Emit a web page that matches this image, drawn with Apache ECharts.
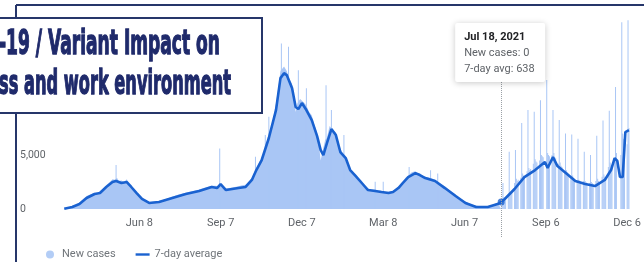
<!DOCTYPE html>
<html><head><meta charset="utf-8">
<script src="https://cdn.jsdelivr.net/npm/echarts@6/dist/echarts.min.js"></script>
<style>html,body{margin:0;padding:0;background:#fff;overflow:hidden}#c{width:644px;height:262px}</style>
</head><body><div id="c"></div>
<script>
// Day numbers count from 2020-03-09 (day 0); one tick every 91 days (13 weeks).
const DAY0 = '2020-03-09';
const tickLabels = ['Jun 8', 'Sep 7', 'Dec 7', 'Mar 8', 'Jun 7', 'Sep 6', 'Dec 6'];
const yTicks = [0, 5000, 10000, 15000];

// 7-day average
const avgDays = [7,16,24,32,41,47,54,61,65,71,77,82,88,94,102,113,128,143,158,172,178,182,188,195,202,210,217,222,228,236,244,249,253,256,262,266,269,273,278,284,290,294,297,301,306,311,316,322,327,333,340,347,355,362,370,375,381,386,392,400,405,411,422,433,445,456,468,481,492,496,500,511,522,534,545,548,554,559,571,579,590,601,612,619,623,626,629,632,635,639];
const avgValues = [20,185,460,1020,1390,1480,2040,2500,2590,2410,2500,2040,1480,930,560,650,1020,1390,1670,2040,1940,2310,1760,1850,1940,2040,2690,3610,4540,6580,9170,12130,12590,12410,11200,9450,9260,9820,9170,8240,6760,5460,5000,6110,7410,6850,5280,4720,3610,3060,2410,1760,1670,1570,1480,1570,1940,2410,2960,3330,3150,2870,2590,1940,1200,560,185,185,460,638,930,1850,2960,3610,4350,3800,4810,3980,3150,2590,2310,2130,2690,3610,4720,4450,2960,2960,7130,7310];

// New cases, dense period (top of the daily bars)
const caseDays = [6,10,16,20,24,28,32,36,41,44,47,51,54,58,61,64,66,68,71,74,77,80,82,85,88,91,94,98,102,108,113,120,128,135,143,150,158,165,172,176,178,180,184,188,195,202,206,210,214,217,222,225,228,232,236,240,244,247,249,251,253,256,259,262,264,266,268,271,273,276,278,281,284,287,290,292,294,296,297,299,301,304,306,308,311,314,316,319,322,325,327,330,333,336,340,344,347,351,355,358,362,366,370,375,378,381,384,386,389,392,396,400,403,405,408,411,416,422,427,433,439,445,450,456,462,468,474,481,487,492,496];
const caseValues = [0,80,300,380,600,900,1200,1350,1500,1450,1650,1900,2200,2500,2750,2700,2900,2600,2650,2500,2750,2300,2200,1900,1600,1300,1050,800,650,700,750,900,1150,1350,1500,1650,1800,2000,2150,2150,2000,2100,2200,1900,2000,2100,2200,2250,2600,2900,3800,4300,4800,5600,7000,8000,9800,11500,12800,13000,13200,12800,12000,11600,10500,9000,9800,10200,10300,9800,9600,9000,8700,7800,7100,6000,4500,5300,5200,6400,6600,7700,7700,7300,7100,6000,5600,5100,4900,4200,3800,3400,3200,2900,2600,2100,1900,1800,1800,1700,1700,1600,1600,1700,1900,2100,2400,2600,2900,3100,3400,3500,3300,3300,3100,3000,2900,2700,2400,2100,1700,1350,1000,700,450,300,250,280,400,600,0];

// Single-day spikes in the dense period
const spikeDays = [65,181,221,232,236,250,258,269,278,300,306,320,355,364,393,417,425];
const spikeValues = [4070,5600,4840,6850,8550,15340,15030,12870,11180,11480,9170,6850,2530,2530,3900,3600,3300];

// Daily new cases from day 497 (Mon 2021-07-19) on
const dailyFrom = 497;
const dailyCases = [
  600,2400,1100,1000,1100,0,0,
  1300,5300,1600,1500,1500,0,0,
  2400,5460,2800,2600,2700,0,0,
  2900,7960,3300,3100,3000,0,0,
  3500,9170,3800,3600,3700,0,0,
  4200,9010,4600,4400,4300,0,0,
  4500,10090,5000,4900,4800,0,0,
  0,11950,5200,5000,4900,0,0,
  5000,9170,5200,4800,4700,0,0,
  4200,8240,4300,4000,3900,0,0,
  3500,7000,3600,3400,3300,0,0,
  3000,6900,3100,2900,2800,0,0,
  2500,6500,2700,2600,2500,0,0,
  2600,5300,2600,2500,2400,0,0,
  2400,5000,2500,2400,2300,0,0,
  2600,6800,2800,2600,2500,0,0,
  3000,8200,3200,3000,2900,0,0,
  3900,9100,4300,4100,4000,0,0,
  4500,11300,5200,0,0,0,0,
  5000,17300,7000,6500,6000,0,0,
  6000,17500,7500
];

// Tooltip shown in the picture
const tipDay = 496;
const tipDate = 'Jul 18, 2021';
const tipNew = 0;
const tipAvg = 638;

const titleLines = ['-19 / Variant Impact on', 'ss and work environment'];
const legendNames = ['New cases', '7-day average'];

const AREA = '#a9c6f5';
const LINE = '#1a62d0';
const NAVY = '#26366a';

const zip = (a, b) => a.map((v, i) => [v, b[i]]);
const barData = zip(spikeDays, spikeValues).concat(dailyCases.map((v, i) => [dailyFrom + i, v]));

const chart = echarts.init(document.getElementById('c'), null, {renderer: 'canvas'});
chart.setOption({
  animation: false,
  backgroundColor: '#fff',
  grid: {left: 58, right: 4, top: 4, bottom: 53},
  xAxis: {
    type: 'value', min: 0, max: 648, interval: 91,
    axisLine: {show: false}, axisTick: {show: false}, splitLine: {show: false},
    axisLabel: {
      margin: 9, color: '#5f6368', fontFamily: 'Roboto', fontSize: 11,
      formatter: v => { const k = Math.round(v / 91) - 1; return (v % 91 === 0 && k >= 0 && k < tickLabels.length) ? tickLabels[k] : ''; }
    }
  },
  yAxis: {
    type: 'value', min: 0, max: 19000, interval: 5000,
    axisLine: {show: false}, axisTick: {show: false}, splitLine: {show: false},
    axisLabel: {
      align: 'left', margin: 38, color: '#5f6368', fontFamily: 'Roboto', fontSize: 10.5,
      formatter: v => yTicks.indexOf(v) >= 0 ? v.toLocaleString('en-US') : ''
    }
  },
  legend: {
    left: 41, top: 244, itemWidth: 14, itemHeight: 8, itemGap: 20,
    textStyle: {color: '#70757a', fontFamily: 'Roboto', fontSize: 11},
    data: [
      {name: legendNames[0], icon: 'circle', itemStyle: {color: '#b3cdf6'}},
      {name: legendNames[1], icon: 'path://M0,0H14V2.4H0Z', itemStyle: {color: LINE}}
    ]
  },
  series: [
    {name: legendNames[0], type: 'line', data: zip(caseDays, caseValues), symbol: 'none',
     lineStyle: {width: 0}, itemStyle: {color: AREA}, areaStyle: {color: AREA, opacity: 1}, z: 1},
    {name: legendNames[0], type: 'bar', data: barData, barWidth: 1, itemStyle: {color: AREA}, z: 1},
    {name: legendNames[1], type: 'line', data: zip(avgDays, avgValues), symbol: 'none',
     lineStyle: {color: LINE, width: 2.6}, itemStyle: {color: LINE}, z: 3},
    {name: 'tip', type: 'scatter', data: [[tipDay, tipAvg]], symbolSize: 7, itemStyle: {color: LINE}, z: 4, silent: true}
  ]
});

// annotations
const px = chart.convertToPixel({xAxisIndex: 0}, tipDay);
const FONT = '"Liberation Sans Narrow", "DejaVu Sans Condensed", Roboto, sans-serif';
const ctx = document.createElement('canvas').getContext('2d');
ctx.font = 'bold 32px ' + FONT;
const w1 = ctx.measureText(titleLines[0]).width;
const w2 = ctx.measureText(titleLines[1]).width;

chart.setOption({
  graphic: [
    {type: 'line', shape: {x1: 16, y1: 5, x2: 16, y2: 262}, style: {stroke: NAVY, lineWidth: 2}, z: 90},
    {type: 'line', shape: {x1: 16, y1: 5, x2: 644, y2: 5}, style: {stroke: NAVY, lineWidth: 2}, z: 90},
    {type: 'rect', shape: {x: -3, y: 18, width: 265, height: 95}, style: {fill: '#fff', stroke: NAVY, lineWidth: 2}, z: 100},
    {type: 'text', x: -1, y: 45, scaleX: 221 / w1, scaleY: 1.06, z: 101,
     style: {text: titleLines[0], font: 'bold 32px ' + FONT, fill: '#1f2a6b', stroke: '#1f2a6b', lineWidth: 1.2, textAlign: 'left', textVerticalAlign: 'middle', align: 'left', verticalAlign: 'middle'}},
    {type: 'text', x: -1, y: 85, scaleX: 232 / w2, scaleY: 1.06, z: 101,
     style: {text: titleLines[1], font: 'bold 32px ' + FONT, fill: '#1f2a6b', stroke: '#1f2a6b', lineWidth: 1.2, textAlign: 'left', textVerticalAlign: 'middle', align: 'left', verticalAlign: 'middle'}},
    {type: 'line', shape: {x1: Math.round(px) + 0.5, y1: 82, x2: Math.round(px) + 0.5, y2: 237}, style: {stroke: '#9aa0a6', lineWidth: 1, lineDash: [1, 1]}, z: 95},
    {type: 'rect', shape: {x: px - 46, y: 23, width: 90, height: 59, r: 2},
     style: {fill: '#fff', shadowBlur: 6, shadowColor: 'rgba(0,0,0,0.22)', shadowOffsetY: 1}, z: 96},
    {type: 'text', x: px - 37, y: 37, z: 97, style: {text: tipDate, font: 'bold 11px Roboto', fill: '#202124', verticalAlign: 'middle', textVerticalAlign: 'middle'}},
    {type: 'text', x: px - 37, y: 53, z: 97, style: {text: 'New cases: ' + tipNew, font: '11px Roboto', fill: '#5f6368', verticalAlign: 'middle', textVerticalAlign: 'middle'}},
    {type: 'text', x: px - 37, y: 69, z: 97, style: {text: '7-day avg: ' + tipAvg, font: '11px Roboto', fill: '#5f6368', verticalAlign: 'middle', textVerticalAlign: 'middle'}}
  ]
});
</script>
</body></html>
